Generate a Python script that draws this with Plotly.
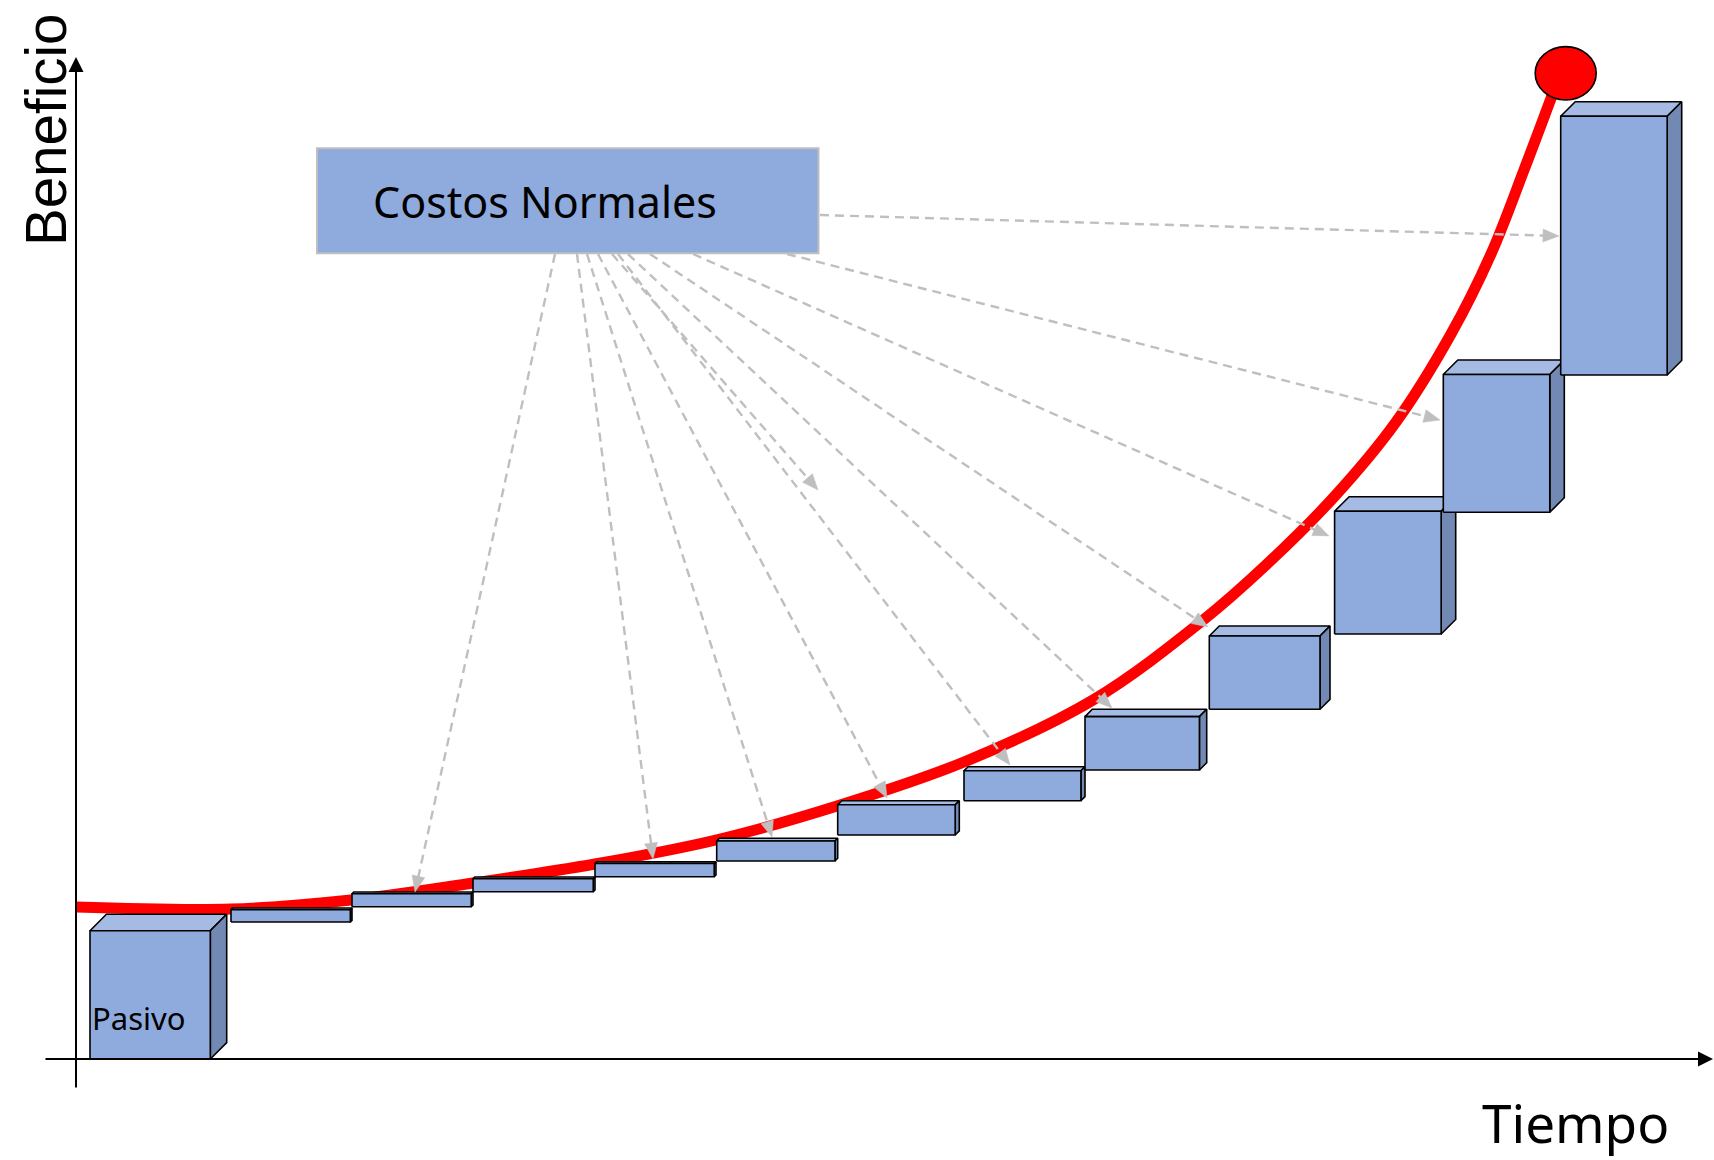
import math
import plotly.graph_objects as go

# ---------------- data (diagram units: x = Tiempo, y = Beneficio) ----------------
step_labels = ["Pasivo", "", "", "", "", "", "", "", "", "", "", "", ""]
step_start = [1.4, 15.5, 27.6, 39.7, 51.9, 64.07, 76.17, 88.8, 100.9, 113.33, 125.86, 136.73, 148.47]
step_end = [15.07, 27.6, 39.7, 51.9, 64.0, 76.17, 88.33, 100.9, 113.07, 125.4, 137.97, 148.83, 160.57]
step_base = [0.0, 13.7, 15.23, 16.73, 18.23, 19.8, 22.4, 25.83, 28.9, 34.97, 42.5, 54.67, 68.4]
step_top = [14.47, 15.1, 16.7, 18.2, 19.73, 22.07, 25.83, 29.23, 34.97, 43.3, 56.23, 69.9, 95.73]

curve_t = [0.0, 15.5, 27.5, 39.7, 51.9, 64.0, 76.1, 88.8, 101.7, 112.6, 119.0, 125.8,
           132.0, 137.5, 141.5, 144.8, 147.7]
curve_benefit = [15.2, 15.0, 15.9, 17.6, 19.5, 21.9, 25.3, 29.7, 35.9, 43.8, 49.4, 56.2,
                 63.7, 72.5, 80.5, 88.9, 96.6]

peak_point = (148.97, 98.57)
peak_radius = (3.05, 2.67)

costs_label = "Costos Normales"
costs_box = {"x0": 24.1, "x1": 74.25, "y0": 80.57, "y1": 91.07}

arrow_from_x = [47.9, 50.1, 51.1, 52.2, 53.6, 54.2, 55.2, 57.4, 61.7, 71.1, 74.4]
arrow_from_y = [80.5, 80.5, 80.5, 80.5, 80.5, 80.5, 80.5, 80.5, 80.5, 80.5, 84.4]
arrow_to_x = [33.9, 57.7, 69.6, 81.1, 74.2, 93.4, 103.6, 113.2, 125.3, 136.4, 148.3]
arrow_to_y = [16.7, 20.0, 22.2, 26.1, 56.9, 29.4, 35.1, 43.2, 52.3, 63.9, 82.3]

x_axis_span = (-3.2, 163.7)
y_axis_span = (-3.0, 100.2)
x_title, y_title = "Tiempo", "Beneficio"

# ---------------- styles ----------------
FRONT = "#8faadc"
TOP = "#a6bbe4"
SIDE = "#7289b4"
RED = "#ff0000"
GRAY = "#bfbfbf"
HEAD_LEN = 1.6      # arrowhead length (axis units, isotropic 10 px/unit)
HEAD_HALF = 0.65    # arrowhead half width

fig = go.Figure()

# red benefit curve (under the boxes)
fig.add_trace(go.Scatter(x=curve_t, y=curve_benefit, mode="lines",
                         line=dict(color=RED, width=11, shape="spline", smoothing=1.0),
                         hoverinfo="skip", showlegend=False))

# 3D boxes
for L, R, B, T in zip(step_start, step_end, step_base, step_top):
    d = 0.12 * min(R - L, T - B)
    faces = [
        ([L, L + d, R, R - d, L], [T - d, T, T, T - d, T - d], TOP),
        ([R - d, R, R, R - d, R - d], [B, B + d, T, T - d, B], SIDE),
        ([L, R - d, R - d, L, L], [B, B, T - d, T - d, B], FRONT),
    ]
    for fx, fy, col in faces:
        fig.add_trace(go.Scatter(x=fx, y=fy, mode="lines", fill="toself", fillcolor=col,
                                 line=dict(color="black", width=1.6), hoverinfo="skip",
                                 showlegend=False))

# dashed gray arrows
for x0, y0, x1, y1 in zip(arrow_from_x, arrow_from_y, arrow_to_x, arrow_to_y):
    dx, dy = x1 - x0, y1 - y0
    n = math.hypot(dx, dy)
    ux, uy = dx / n, dy / n
    bx, by = x1 - ux * HEAD_LEN, y1 - uy * HEAD_LEN
    fig.add_trace(go.Scatter(x=[x0, bx + ux * 0.3], y=[y0, by + uy * 0.3], mode="lines",
                             line=dict(color=GRAY, width=2.4, dash="9px,6px"),
                             hoverinfo="skip", showlegend=False))
    fig.add_trace(go.Scatter(
        x=[x1, bx - uy * HEAD_HALF, bx + uy * HEAD_HALF, x1],
        y=[y1, by + ux * HEAD_HALF, by - ux * HEAD_HALF, y1],
        mode="lines", fill="toself", fillcolor=GRAY, line=dict(color=GRAY, width=0.5),
        hoverinfo="skip", showlegend=False))

shapes = [
    dict(type="rect", xref="x", yref="y", layer="above",
         x0=costs_box["x0"], x1=costs_box["x1"], y0=costs_box["y0"], y1=costs_box["y1"],
         fillcolor=FRONT, line=dict(color=GRAY, width=2)),
    dict(type="circle", xref="x", yref="y", layer="above",
         x0=peak_point[0] - peak_radius[0], x1=peak_point[0] + peak_radius[0],
         y0=peak_point[1] - peak_radius[1], y1=peak_point[1] + peak_radius[1],
         fillcolor=RED, line=dict(color="black", width=1.6)),
]

annotations = [
    # axes with arrowheads
    dict(x=x_axis_span[1], y=0, ax=x_axis_span[0], ay=0, xref="x", yref="y",
         axref="x", ayref="y", text="", showarrow=True, arrowhead=2, arrowsize=1.5,
         arrowwidth=2, arrowcolor="black", standoff=0),
    dict(x=0, y=y_axis_span[1], ax=0, ay=y_axis_span[0], xref="x", yref="y",
         axref="x", ayref="y", text="", showarrow=True, arrowhead=2, arrowsize=1.5,
         arrowwidth=2, arrowcolor="black", standoff=0),
    # texts
    dict(x=-3.0, y=92.9, xref="x", yref="y", text=y_title, showarrow=False,
         textangle=-90, xanchor="center", yanchor="middle",
         font=dict(family="Liberation Sans", size=56.5, color="black")),
    dict(x=149.95, y=-6.3, xref="x", yref="y", text=x_title, showarrow=False,
         xanchor="center", yanchor="middle",
         font=dict(family="Noto Sans", size=53, color="black")),
    dict(x=(costs_box["x0"] + costs_box["x1"]) / 2 - 2.3, y=85.8, xref="x", yref="y",
         text=costs_label, showarrow=False, xanchor="center", yanchor="middle",
         font=dict(family="Noto Sans", size=43, color="black")),
    dict(x=step_start[0] + 0.05, y=4.15, xref="x", yref="y", text=step_labels[0],
         showarrow=False, xanchor="left", yanchor="middle", borderpad=0,
         font=dict(family="Noto Sans", size=31, color="black")),
]

fig.update_layout(
    width=1714, height=1160, autosize=False,
    margin=dict(l=0, r=0, t=0, b=0, pad=0),
    paper_bgcolor="white", plot_bgcolor="white",
    xaxis=dict(range=[-7.6, 163.8], visible=False, fixedrange=True),
    yaxis=dict(range=[-10.1, 105.9], visible=False, fixedrange=True),
    shapes=shapes, annotations=annotations, showlegend=False,
)

fig.write_html("out.html", config={"displayModeBar": False})
